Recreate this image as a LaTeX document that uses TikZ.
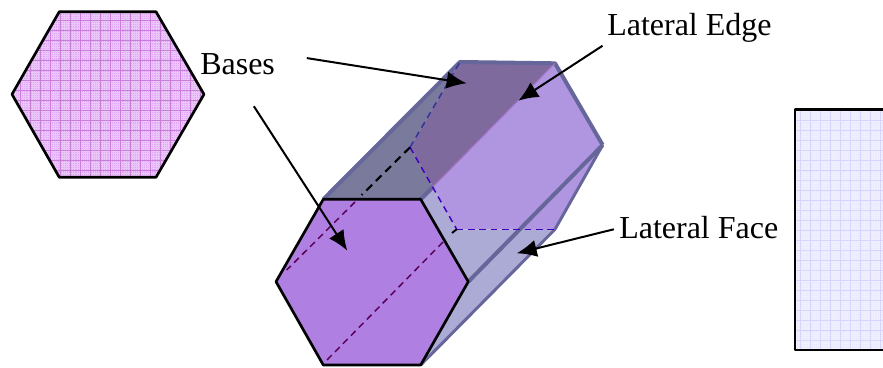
\documentclass[tikz,border=0pt]{standalone}
\usepackage{fontspec}
\setmainfont{Liberation Serif}
\usetikzlibrary{arrows.meta}
\definecolor{edgeblue}{HTML}{66669A}
\definecolor{topgray}{HTML}{7A7A9C}
\definecolor{topdark}{HTML}{7F6A9E}
\definecolor{sidepurple}{HTML}{B095E0}
\definecolor{sideblue}{HTML}{ABABD6}
\definecolor{frontpurple}{HTML}{B07FE2}
\definecolor{basepink}{HTML}{E0A8F6}
\definecolor{rectblue}{HTML}{E8E8FE}
\tikzset{
  lbl/.style={font=\fontsize{24}{28}\selectfont, inner sep=0pt, text=black},
  arr/.style={-{Latex[length=15pt,width=13pt]}, line width=1.5pt, black},
  hexline/.style={draw=black, line width=2pt, line join=round},
  prismline/.style={draw=edgeblue, line width=3pt, line join=round},
  hid/.style={dash pattern=on 5pt off 3.5pt, line width=1.1pt}
}
\begin{document}
\begin{tikzpicture}[x=0.75pt,y=-0.75pt]
  \useasboundingbox (0,0) rectangle (883,368);
  % corners of the front and back hexagon
  \coordinate (f1) at (323.3,199.3); \coordinate (f2) at (420.7,199.3);
  \coordinate (f3) at (468.3,281.7); \coordinate (f4) at (420.7,365);
  \coordinate (f5) at (323.3,365);   \coordinate (f6) at (276,281.7);
  \coordinate (b1) at (460,62);      \coordinate (b2) at (555,63.3);
  \coordinate (b3) at (602.7,145);   \coordinate (b4) at (555,229.3);
  \coordinate (b5) at (456.7,229.3); \coordinate (b6) at (410,147.3);
  \coordinate (m) at (433.3,186.7);
  \coordinate (c) at (518.3,229.3);

  % the flat hexagon
  \fill[basepink] (59.3,11.7)--(156,11.7)--(204,94.3)--(156,177.3)--(59.3,177.3)--(12,94.3)--cycle;
  \begin{scope}
    \clip (59.3,11.7)--(156,11.7)--(204,94.3)--(156,177.3)--(59.3,177.3)--(12,94.3)--cycle;
    \draw[white!35!basepink, line width=0.3pt, step=1.6pt] (0,0) grid (210,180);
    \draw[violet!25!basepink, line width=0.35pt, step=7.5pt] (0,0) grid (210,180);
  \end{scope}
  \draw[hexline] (59.3,11.7)--(156,11.7)--(204,94.3)--(156,177.3)--(59.3,177.3)--(12,94.3)--cycle;

  % the flat rectangle
  \fill[rectblue] (795,109.3) rectangle (883,350);
  \begin{scope}
    \clip (795,109.3) rectangle (883,350);
    \draw[white!30!rectblue, line width=0.3pt, step=1.6pt] (780,100) grid (883,360);
    \draw[blue!8!rectblue, line width=0.35pt, step=7.5pt] (780,100) grid (883,360);
  \end{scope}
  \draw[hexline] (883,109.3)--(795,109.3)--(795,350)--(883,350);

  % the prism
  \fill[topgray] (f1)--(b1)--(b6)--(m)--(f2)--cycle;
  \fill[topdark] (b1)--(b2)--(m)--(b6)--cycle;
  \fill[sidepurple] (b2)--(b3)--(b4)--(b5)--(m)--cycle;
  \fill[sideblue] (f2)--(m)--(b5)--(b4)--(f4)--cycle;
  \fill[sideblue] (f3)--(b3)--(b4)--(f4)--cycle;
  \fill[sidepurple] (b3)--(b4)--(c)--cycle;
  \draw[prismline] (f1)--(b1)--(b2)--(b3);
  \draw[edgeblue, line width=2.2pt] (b3)--(b4)--(f4);
  \draw[prismline] (f2)--(m);
  \draw[prismline] (f3)--(b3);
  \draw[sidepurple!80!violet, line width=0.8pt] (m)--(b2);
  \draw[hid, blue!50!black!80] (b6)--(b1);
  \draw[hid, blue!50!violet] (b6)--(b5);
  \draw[hid, blue!50!violet] (b5)--(b4);

  % the front face
  \fill[frontpurple] (f1)--(f2)--(f3)--(f4)--(f5)--(f6)--cycle;
  \draw[dash pattern=on 6pt off 4pt, black, line width=1.6pt] (b6)--(361.7,195);
  \draw[hid, black, line width=1.4pt] (b5)--(452,233);
  \draw[hid, violet!70!black] (355,202)--(286.7,270);
  \draw[hid, violet!70!black] (443,242)--(326,361);
  \draw[hexline] (f1)--(f2)--(f3)--(f4)--(f5)--(f6)--cycle;

  % labels and arrows
  \node[lbl, anchor=west] (bases) at (200,64) {Bases};
  \node[lbl, anchor=west] (edgelbl) at (607,28) {Lateral Edge};
  \node[lbl, anchor=west] (facelbl) at (619,228) {Lateral Face};
  \coordinate (t1) at (466.7,83.3);
  \coordinate (t2) at (347.3,250.7);
  \coordinate (t3) at (518.3,100.7);
  \coordinate (t4) at (516.7,253.3);
  \draw[arr, shorten <=24pt] (bases.north east)--(t1);
  \draw[arr, shorten <=28pt] ([xshift=-3pt]bases.south)--(t2);
  \draw[arr, shorten <=4pt] (edgelbl.south west)--(t3);
  \draw[arr, shorten <=4pt] (facelbl.west)--(t4);
\end{tikzpicture}
\end{document}
